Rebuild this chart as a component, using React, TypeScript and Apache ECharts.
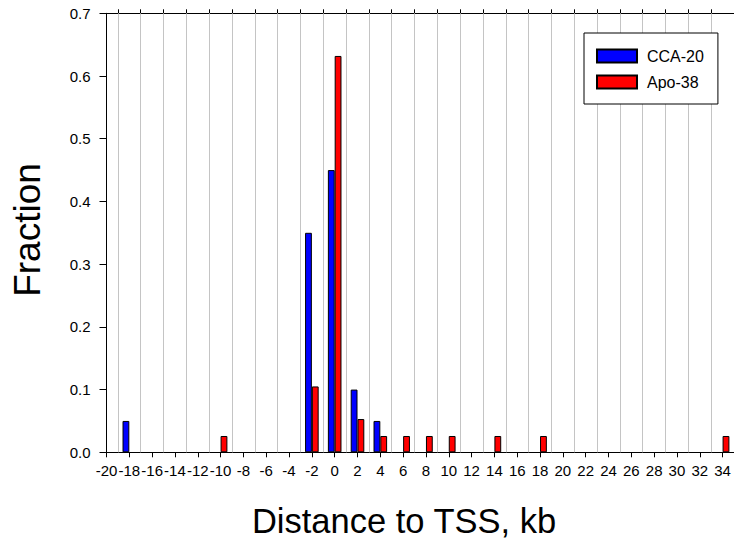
import React, { useEffect, useRef } from "react";
import * as echarts from "echarts";

// Distance of each peak to the nearest TSS, in kb (bin centres)
const kbCCA20 = [-18, -2, 0, 2, 4];
const fracCCA20 = [0.05, 0.35, 0.45, 0.1, 0.05];

const kbApo38 = [-10, -2, 0, 2, 4, 6, 8, 10, 14, 18, 34];
const fracApo38 = [0.026, 0.105, 0.632, 0.053, 0.026, 0.026, 0.026, 0.026, 0.026, 0.026, 0.026];

// Labelled (even) ticks along the bottom, and odd ticks (with gridlines) along the top
const evenTicks = [-20, -18, -16, -14, -12, -10, -8, -6, -4, -2, 0, 2, 4, 6, 8, 10, 12, 14, 16, 18, 20, 22, 24, 26, 28, 30, 32, 34];
const oddTicks = [-19, -17, -15, -13, -11, -9, -7, -5, -3, -1, 1, 3, 5, 7, 9, 11, 13, 15, 17, 19, 21, 23, 25, 27, 29, 31, 33];

const X_MIN = -20;
const X_MAX = 35;
const W = 734;
const H = 549;

const FONT = "Liberation Sans, Arial, sans-serif";

export default function App() {
  const ref = useRef<HTMLDivElement>(null);

  useEffect(() => {
    if (!ref.current) return;
    const chart = echarts.init(ref.current, null, { renderer: "svg" });

    const barStyle = (color: string) => ({
      color,
      borderColor: "#000",
      borderWidth: 1,
    });

    chart.setOption({
      animation: false,
      backgroundColor: "#fff",
      textStyle: { fontFamily: FONT },
      grid: { left: 106.5, right: 0, top: 13.3, bottom: 96.7 },
      xAxis: [
        {
          type: "value",
          position: "bottom",
          min: X_MIN,
          max: X_MAX,
          axisLine: { show: true, onZero: false, lineStyle: { color: "#000", width: 1 } },
          axisTick: { show: true, inside: false, length: 5, customValues: evenTicks, lineStyle: { color: "#000" } },
          axisLabel: {
            customValues: evenTicks,
            color: "#000",
            fontSize: 15,
            fontFamily: FONT,
            margin: 10.5,
          },
          splitLine: { show: false },
        },
        {
          type: "value",
          position: "top",
          min: X_MIN,
          max: X_MAX,
          axisLine: { show: true, onZero: false, lineStyle: { color: "#000", width: 1 } },
          axisTick: { show: true, inside: false, length: 4, customValues: oddTicks, lineStyle: { color: "#000" } },
          axisLabel: { show: false },
          splitLine: { show: false },
        },
      ],
      yAxis: {
        type: "value",
        position: "left",
        min: 0,
        max: 0.7,
        interval: 0.1,
        z: 6,
        axisLine: { show: true, onZero: false, lineStyle: { color: "#000", width: 1 } },
        axisTick: { show: true, inside: false, length: 7, lineStyle: { color: "#000" } },
        axisLabel: {
          color: "#000",
          fontSize: 15,
          fontFamily: FONT,
          margin: 16,
          formatter: (v: number) => v.toFixed(1),
        },
        splitLine: { show: false },
      },
      legend: {
        left: 584,
        top: 33,
        z: 10,
        orient: "vertical",
        backgroundColor: "#fff",
        borderColor: "#000",
        borderWidth: 1,
        borderRadius: 0,
        padding: [15, 14, 14, 12],
        itemWidth: 40,
        itemHeight: 13,
        itemGap: 10,
        icon: "rect",
        textStyle: { color: "#000", fontSize: 16, fontFamily: FONT, padding: [0, 0, 0, 5] },
        data: ["CCA-20", "Apo-38"],
      },
      graphic: [
        {
          type: "text",
          x: 27.5,
          y: 230,
          rotation: Math.PI / 2,
          style: {
            text: "Fraction",
            fontSize: 37,
            fontFamily: FONT,
            fill: "#000",
            align: "center",
            verticalAlign: "middle",
          },
        },
        {
          type: "text",
          x: 404,
          y: 521,
          style: {
            text: "Distance to TSS, kb",
            fontSize: 34.5,
            fontFamily: FONT,
            fill: "#000",
            align: "center",
            verticalAlign: "middle",
          },
        },
      ],
      series: [
        {
          // vertical gridlines at the odd kb values
          name: "grid",
          type: "line",
          data: [],
          z: 1,
          silent: true,
          markLine: {
            z: 1,
            silent: true,
            symbol: "none",
            label: { show: false },
            lineStyle: { color: "#c4c4c4", width: 1, type: "solid" },
            data: oddTicks.map((v) => ({ xAxis: v })),
          },
        },
        {
          name: "CCA-20",
          type: "bar",
          barWidth: 6.8,
          barGap: "0%",
          z: 3,
          itemStyle: barStyle("#0000ff"),
          data: kbCCA20.map((k, i) => [k, fracCCA20[i]]),
        },
        {
          name: "Apo-38",
          type: "bar",
          barWidth: 6.8,
          barGap: "0%",
          z: 3,
          itemStyle: barStyle("#ff0000"),
          data: kbApo38.map((k, i) => [k, fracApo38[i]]),
        },
      ],
    });

    return () => chart.dispose();
  }, []);

  return (
    <div
      ref={ref}
      style={{ position: "absolute", left: 0, top: 0, width: W, height: H }}
    />
  );
}
